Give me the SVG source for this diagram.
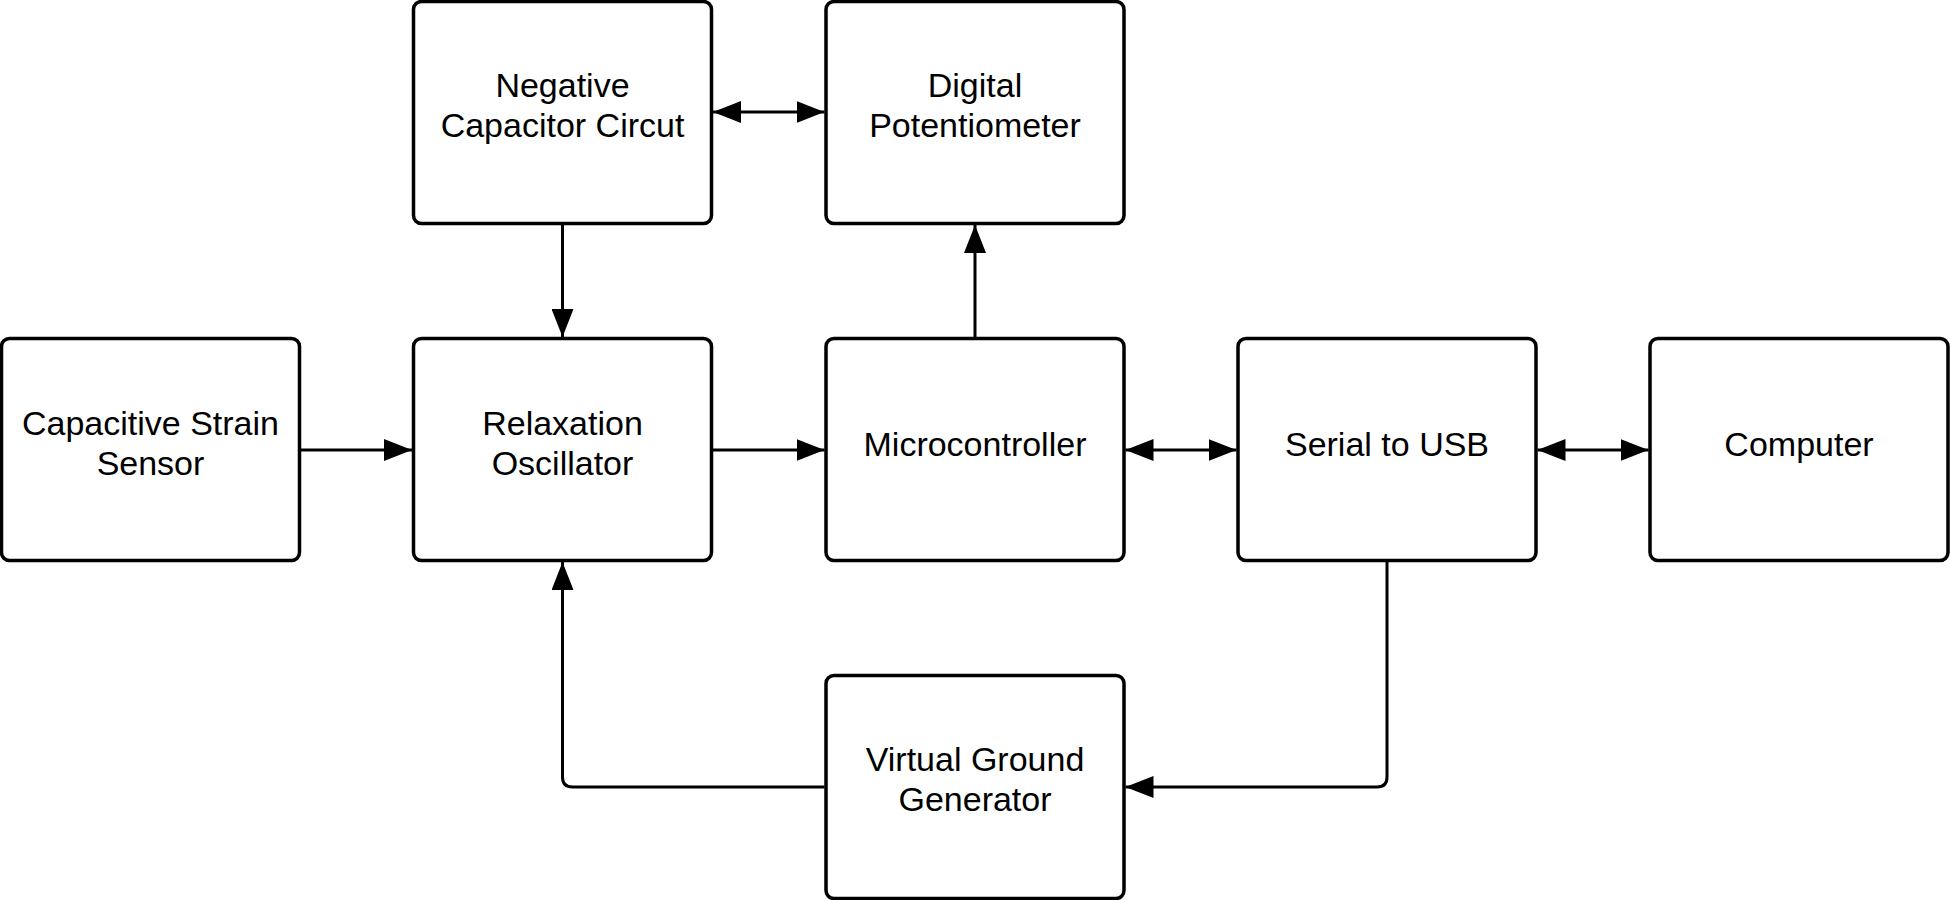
<svg xmlns="http://www.w3.org/2000/svg" width="1950" height="900" viewBox="0 0 1950 900">
<style>
.box{fill:#fff;stroke:#000;stroke-width:3.5}
.lbl{font-family:"Liberation Sans",Arial,sans-serif;font-size:34px;fill:#000;text-anchor:middle}
.con{fill:none;stroke:#000;stroke-width:3}
</style>
<defs>
<marker id="ah" viewBox="0 0 28 22" refX="28" refY="11" markerWidth="28" markerHeight="22" markerUnits="userSpaceOnUse" orient="auto-start-reverse">
<path d="M0,0 L28,11 L0,22 Z" fill="#000"/>
</marker>
</defs>
<rect width="1950" height="900" fill="#fff"/>
<g id="connectors">
<path class="con" d="M713,112 H824.5" marker-start="url(#ah)" marker-end="url(#ah)"/>
<path class="con" d="M562.5,225 V337" marker-end="url(#ah)"/>
<path class="con" d="M975,337 V225" marker-end="url(#ah)"/>
<path class="con" d="M301,450 H412" marker-end="url(#ah)"/>
<path class="con" d="M713,450 H824.5" marker-end="url(#ah)"/>
<path class="con" d="M1125.5,450 H1236.5" marker-start="url(#ah)" marker-end="url(#ah)"/>
<path class="con" d="M1537.5,450 H1648.5" marker-start="url(#ah)" marker-end="url(#ah)"/>
<path class="con" d="M1387,562 V777 Q1387,787 1377,787 H1125.5" marker-end="url(#ah)"/>
<path class="con" d="M824.5,787 H572.5 Q562.5,787 562.5,777 V562" marker-end="url(#ah)"/>
</g>
<g id="negative-capacitor">
<rect class="box" x="413.5" y="1.5" width="298" height="222" rx="8"/>
<text class="lbl" x="562.5" y="97">Negative</text>
<text class="lbl" x="562.5" y="137">Capacitor Circut</text>
</g>
<g id="digital-potentiometer">
<rect class="box" x="826" y="1.5" width="298" height="222" rx="8"/>
<text class="lbl" x="975" y="97">Digital</text>
<text class="lbl" x="975" y="137">Potentiometer</text>
</g>
<g id="capacitive-strain-sensor">
<rect class="box" x="1.5" y="338.5" width="298" height="222" rx="8"/>
<text class="lbl" x="150.5" y="435">Capacitive Strain</text>
<text class="lbl" x="150.5" y="475">Sensor</text>
</g>
<g id="relaxation-oscillator">
<rect class="box" x="413.5" y="338.5" width="298" height="222" rx="8"/>
<text class="lbl" x="562.5" y="435">Relaxation</text>
<text class="lbl" x="562.5" y="475">Oscillator</text>
</g>
<g id="microcontroller">
<rect class="box" x="826" y="338.5" width="298" height="222" rx="8"/>
<text class="lbl" x="975" y="456">Microcontroller</text>
</g>
<g id="serial-to-usb">
<rect class="box" x="1238" y="338.5" width="298" height="222" rx="8"/>
<text class="lbl" x="1387" y="456">Serial to USB</text>
</g>
<g id="computer">
<rect class="box" x="1650" y="338.5" width="298" height="222" rx="8"/>
<text class="lbl" x="1799" y="456">Computer</text>
</g>
<g id="virtual-ground-generator">
<rect class="box" x="826" y="675.5" width="298" height="223" rx="8"/>
<text class="lbl" x="975" y="771">Virtual Ground</text>
<text class="lbl" x="975" y="811">Generator</text>
</g>
</svg>
